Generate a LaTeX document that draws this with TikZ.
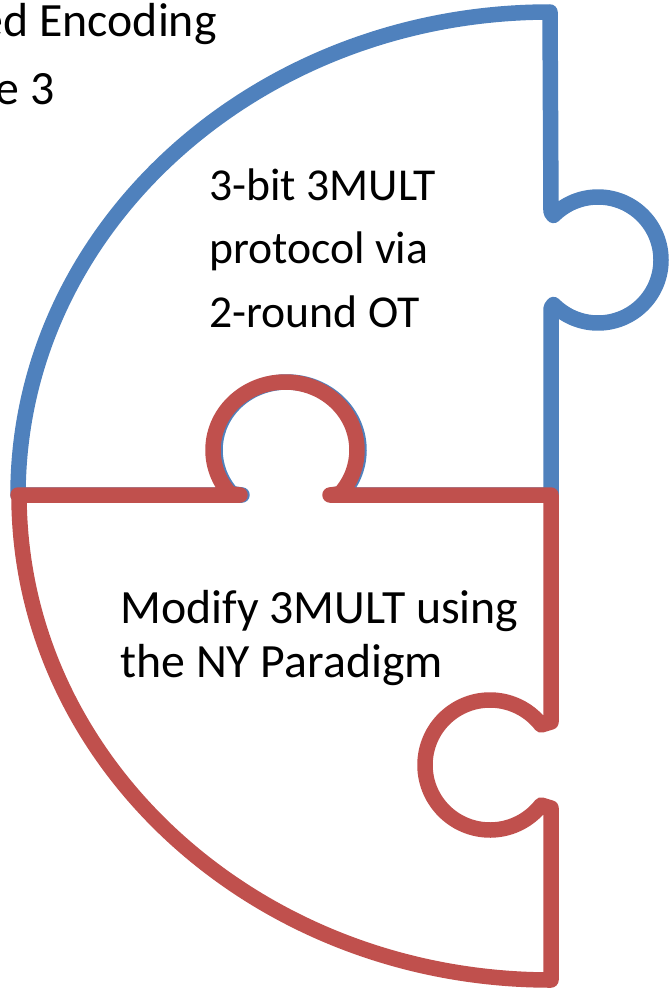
\documentclass[tikz,border=0pt]{standalone}
\usepackage{fontspec}
\setmainfont{Carlito}
\usetikzlibrary{calc}
\definecolor{pieceblue}{HTML}{4F81BD}
\definecolor{piecered}{HTML}{C0504D}
\begin{document}
\begin{tikzpicture}[x=0.02cm,y=0.02cm,
  piece/.style={line width=0.31cm, line join=round, line cap=round},
  label/.style={inner sep=0pt, text=black},
  upper/.style={label, font=\fontsize{26}{30}\selectfont},
  lower/.style={label, font=\fontsize{27.2}{32}\selectfont}]
\useasboundingbox (0,0) rectangle (671,-990);
\clip (0,0) rectangle (671,-990);

% knob centres
\coordinate (bk) at (598,-260);   % blue piece, right knob
\coordinate (bt) at (287,-450);   % blue piece, bottom socket
\coordinate (rk) at (285,-450);   % red piece, top knob
\coordinate (rs) at (490,-765);   % red piece, right socket

% upper (blue) puzzle piece
\draw[piece, pieceblue] (18,-495)
  arc[start angle=180, end angle=90, x radius=532, y radius=483]
  -- (551,-212) -- ($(bk)+(135:63)$)
  arc[start angle=135, end angle=-135, radius=63]
  -- (551,-308) -- (551,-495) -- (332,-495) -- ($(bt)+(-40:72 and 68)$)
  arc[start angle=-40, end angle=220, x radius=72, y radius=68]
  -- (242,-495) -- cycle;

% lower (red) puzzle piece
\draw[piece, piecered] (18,-495) -- (240,-495) -- ($(rk)+(220:72 and 68)$)
  arc[start angle=220, end angle=-40, x radius=72, y radius=68]
  -- (330,-495) -- (551,-495) -- (551,-722) -- ($(rs)+(38:65)$)
  arc[start angle=38, end angle=322, radius=65]
  -- (551,-808) -- (551,-980)
  arc[start angle=270, end angle=180, x radius=532, y radius=485]
  -- cycle;

% texts
\node[lower, anchor=base east] (tl1) at (217,-37) {ed Encoding};
\node[lower, anchor=base east] (tl2) at (55,-105) {e 3};

\node[upper, anchor=base west] (up1) at (209,-200) {3-bit 3MULT};
\node[upper, anchor=base west] (up2) at (209,-263) {protocol via};
\node[upper, anchor=base west] (up3) at (209,-327) {2-round OT};

\node[lower, anchor=base west] (lo1) at (120,-623) {Modify 3MULT using};
\node[lower, anchor=base west] (lo2) at (120,-677) {the NY Paradigm};
\end{tikzpicture}
\end{document}
